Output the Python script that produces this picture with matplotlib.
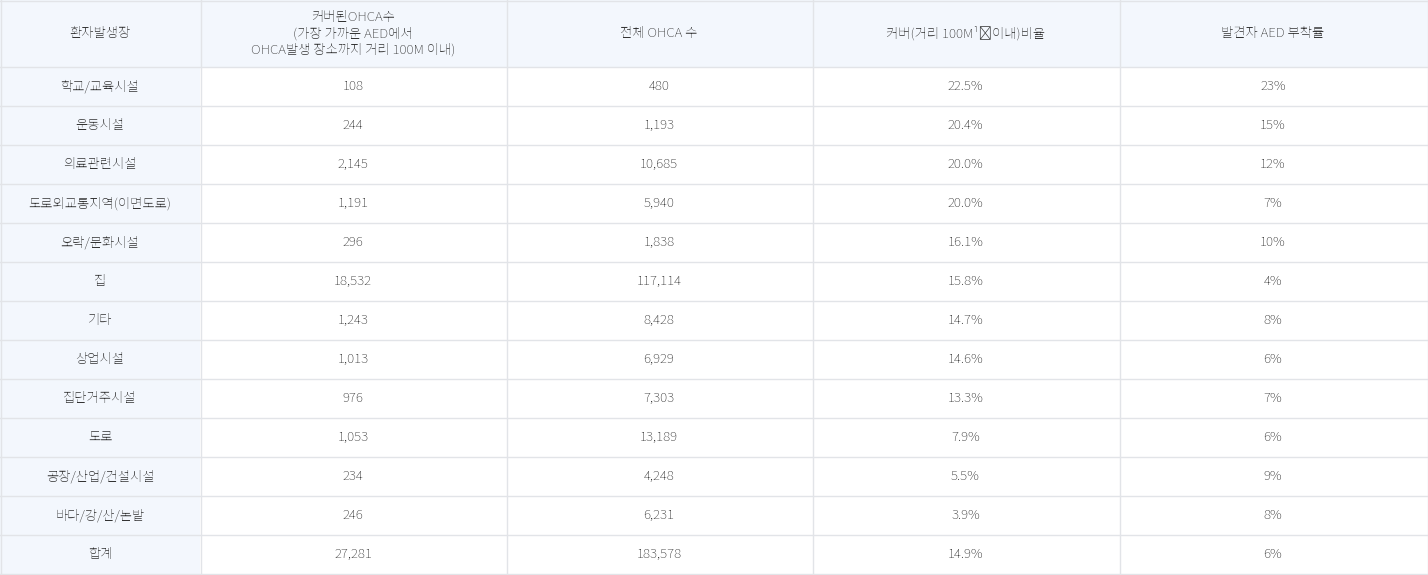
import glob
import matplotlib
matplotlib.use("Agg")
import matplotlib.pyplot as plt
from matplotlib import font_manager as fm
from matplotlib.patches import Rectangle

# locate a Korean-capable font
for f in glob.glob("/usr/share/fonts/**/*CJK*", recursive=True) + glob.glob("/usr/local/share/fonts/**/*CJK*", recursive=True):
    try:
        fm.fontManager.addfont(f)
    except Exception:
        pass
names = sorted({f.name for f in fm.fontManager.ttflist})
pref = [n for n in ["Noto Sans CJK KR", "Noto Sans KR", "Noto Sans CJK JP", "Noto Sans CJK SC"] if n in names]
pref += [n for n in names if "CJK" in n]
plt.rcParams["font.family"] = "sans-serif"
plt.rcParams["font.sans-serif"] = pref + ["DejaVu Sans"]

headers = ["환자발생장", "커버된OHCA수\n(가장 가까운 AED에서\nOHCA발생 장소까지 거리 100M 이내)",
           "전체 OHCA 수", "커버(거리 100M¹⁾이내)비율", "발견자 AED 부착률"]
places = ["학교/교육시설", "운동시설", "의료관련시설", "도로외교통지역(이면도로)", "오락/문화시설",
          "집", "기타", "상업시설", "집단거주시설", "도로", "공장/산업/건설시설", "바다/강/산/논밭", "합계"]
covered = ["108", "244", "2,145", "1,191", "296", "18,532", "1,243", "1,013", "976", "1,053", "234", "246", "27,281"]
total = ["480", "1,193", "10,685", "5,940", "1,838", "117,114", "8,428", "6,929", "7,303", "13,189", "4,248", "6,231", "183,578"]
ratio = ["22.5%", "20.4%", "20.0%", "20.0%", "16.1%", "15.8%", "14.7%", "14.6%", "13.3%", "7.9%", "5.5%", "3.9%", "14.9%"]
aed = ["23%", "15%", "12%", "7%", "10%", "4%", "8%", "6%", "7%", "6%", "9%", "8%", "6%"]

W, H = 1428, 575
fig = plt.figure(figsize=(W / 100, H / 100), dpi=100)
ax = fig.add_axes([0, 0, 1, 1])
ax.set_xlim(0, W)
ax.set_ylim(H, 0)
ax.axis("off")

xs = [0, 200, 506, 812, 1119, 1427]
hh = 67
rh = 39
head_bg = "#f3f7fd"
line = "#e2e4e8"
tc = "#333333"
fs = 9.6

ax.add_patch(Rectangle((0, 0), W, hh, facecolor=head_bg, edgecolor="none"))
ax.add_patch(Rectangle((0, hh), xs[1], rh * len(places), facecolor=head_bg, edgecolor="none"))

nrow = len(places)
ybot = hh + rh * nrow
for x in xs:
    ax.plot([x + 0.5, x + 0.5], [0, ybot], color=line, lw=1)
ax.plot([0, W], [0.5, 0.5], color=line, lw=1)
for i in range(nrow + 1):
    y = hh + rh * i
    ax.plot([0, W], [y, y], color=line, lw=1)

for j, h in enumerate(headers):
    cx = (xs[j] + xs[j + 1]) / 2
    ax.text(cx, hh / 2, h, ha="center", va="center", fontsize=fs, color=tc, linespacing=1.3)

cols = [places, covered, total, ratio, aed]
for i in range(nrow):
    cy = hh + rh * i + rh / 2
    for j, col in enumerate(cols):
        cx = (xs[j] + xs[j + 1]) / 2
        ax.text(cx, cy, col[i], ha="center", va="center", fontsize=fs, color=tc)

fig.savefig("out.png", dpi=100, facecolor="white")
